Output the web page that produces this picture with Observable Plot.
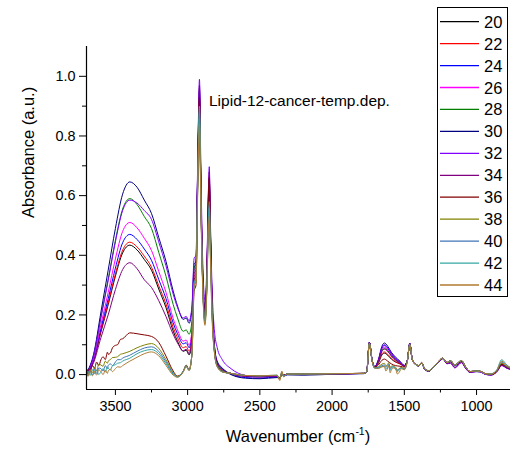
<!DOCTYPE html>
<html>
<head>
<meta charset="utf-8">
<script src="https://cdn.jsdelivr.net/npm/d3@7"></script>
<script src="https://cdn.jsdelivr.net/npm/@observablehq/plot@0.6"></script>
<style>
  html, body { margin: 0; padding: 0; background: #fff; }
  #chart { position: relative; width: 510px; height: 450px; }
</style>
</head>
<body>
<div id="chart"></div>
<script>
// ---------- data ----------
const temps = [20, 22, 24, 26, 28, 30, 32, 34, 36, 38, 40, 42, 44];
const colors = ["#000000", "#ff0000", "#0000ff", "#ff00ff", "#008000", "#000080", "#8000ff",
                "#800080", "#800000", "#808000", "#3f74b8", "#33a7a2", "#b07a32"];

const wavenumbers = [
  3700, 3650, 3600, 3550, 3500, 3450, 3400,
  3350, 3300, 3250, 3200, 3150, 3100, 3070, 3030, 3010, 2990,
  2970, 2955, 2942, 2930, 2918, 2908, 2895, 2880, 2866, 2856, 2850, 2843, 2830, 2815, 2795, 2760,
  2700, 2600, 2500, 2380, 2362, 2348, 2335, 2310, 2200, 2000, 1780,
  1760, 1742, 1722, 1705, 1680, 1655, 1638, 1615, 1590, 1560, 1530, 1500, 1480, 1462, 1445, 1425,
  1400, 1380, 1360, 1330, 1300, 1270, 1235, 1205, 1180, 1150, 1105, 1075, 1045, 1000, 975, 940,
  900, 860, 826, 790, 765
];

const abs20 = [
  0.004, 0.048, 0.143, 0.234, 0.330, 0.408, 0.434,
  0.418, 0.386, 0.350, 0.287, 0.225, 0.146, 0.112, 0.078, 0.082, 0.066,
  0.11, 0.32, 0.33, 0.66, 0.91, 0.58, 0.30, 0.18, 0.32, 0.55, 0.62, 0.47, 0.21, 0.085, 0.03, 0.01,
  0.004, -0.004, -0.005, -0.004, -0.01, 0.003, -0.002, 0.002, 0.002, 0.003, 0.004,
  0.01, 0.106, 0.044, 0.024, 0.038, 0.066, 0.072, 0.065, 0.052, 0.042, 0.036, 0.028, 0.045, 0.102, 0.05, 0.035,
  0.03, 0.04, 0.02, 0.013, 0.025, 0.04, 0.055, 0.04, 0.047, 0.033, 0.047, 0.025, 0.01, 0.012, 0.011, 0.003,
  0.0, 0.012, 0.035, 0.025, 0.02
];
const abs22 = [
  0.0, 0.049, 0.147, 0.240, 0.337, 0.417, 0.444,
  0.428, 0.397, 0.360, 0.298, 0.237, 0.158, 0.124, 0.090, 0.094, 0.078,
  0.12, 0.33, 0.34, 0.67, 0.92, 0.59, 0.30, 0.19, 0.33, 0.57, 0.64, 0.48, 0.22, 0.088, 0.032, 0.012,
  0.004, -0.005, -0.006, -0.004, -0.011, 0.003, -0.002, 0.002, 0.002, 0.003, 0.004,
  0.01, 0.107, 0.045, 0.025, 0.04, 0.07, 0.076, 0.068, 0.055, 0.043, 0.036, 0.029, 0.045, 0.103, 0.05, 0.036,
  0.03, 0.041, 0.02, 0.013, 0.025, 0.04, 0.055, 0.041, 0.046, 0.032, 0.047, 0.024, 0.01, 0.012, 0.011, 0.003,
  0.001, 0.012, 0.034, 0.024, 0.02
];
const abs24 = [
  0.002, 0.052, 0.155, 0.254, 0.357, 0.442, 0.470,
  0.453, 0.421, 0.383, 0.319, 0.255, 0.173, 0.137, 0.103, 0.107, 0.090,
  0.14, 0.36, 0.37, 0.69, 0.95, 0.61, 0.32, 0.21, 0.35, 0.58, 0.65, 0.49, 0.23, 0.095, 0.04, 0.02,
  0.002, -0.01, -0.012, -0.008, -0.012, 0.002, -0.003, 0.001, 0.0, 0.002, 0.004,
  0.011, 0.108, 0.046, 0.026, 0.047, 0.088, 0.098, 0.088, 0.07, 0.052, 0.041, 0.03, 0.046, 0.104, 0.05, 0.035,
  0.029, 0.04, 0.019, 0.012, 0.024, 0.039, 0.054, 0.04, 0.044, 0.03, 0.046, 0.023, 0.009, 0.011, 0.01, 0.002,
  0.0, 0.011, 0.033, 0.023, 0.019
];
const abs26 = [
  0.003, 0.056, 0.168, 0.275, 0.388, 0.480, 0.510,
  0.492, 0.457, 0.416, 0.346, 0.276, 0.188, 0.150, 0.112, 0.116, 0.098,
  0.15, 0.35, 0.36, 0.68, 0.94, 0.60, 0.31, 0.20, 0.34, 0.57, 0.64, 0.48, 0.22, 0.09, 0.035, 0.015,
  0.004, -0.006, -0.007, -0.005, -0.011, 0.003, -0.002, 0.002, 0.001, 0.003, 0.004,
  0.01, 0.107, 0.045, 0.025, 0.045, 0.083, 0.092, 0.083, 0.066, 0.05, 0.04, 0.03, 0.045, 0.103, 0.05, 0.035,
  0.03, 0.04, 0.02, 0.013, 0.025, 0.04, 0.055, 0.04, 0.045, 0.031, 0.046, 0.024, 0.01, 0.012, 0.011, 0.003,
  0.0, 0.012, 0.034, 0.024, 0.02
];
const abs28 = [
  0.003, 0.065, 0.195, 0.320, 0.450, 0.555, 0.590,
  0.570, 0.530, 0.490, 0.410, 0.330, 0.235, 0.190, 0.145, 0.150, 0.135,
  0.18, 0.36, 0.37, 0.68, 0.93, 0.60, 0.31, 0.20, 0.34, 0.56, 0.63, 0.48, 0.22, 0.09, 0.035, 0.015,
  0.004, -0.005, -0.006, -0.004, -0.01, 0.003, -0.002, 0.002, 0.002, 0.003, 0.004,
  0.01, 0.106, 0.045, 0.025, 0.044, 0.08, 0.088, 0.08, 0.064, 0.049, 0.039, 0.03, 0.045, 0.103, 0.05, 0.035,
  0.03, 0.04, 0.02, 0.013, 0.025, 0.04, 0.055, 0.04, 0.046, 0.032, 0.047, 0.025, 0.01, 0.012, 0.011, 0.003,
  0.0, 0.012, 0.035, 0.025, 0.02
];
const abs30 = [
  0.005, 0.070, 0.210, 0.350, 0.490, 0.605, 0.646,
  0.628, 0.585, 0.540, 0.460, 0.380, 0.280, 0.230, 0.185, 0.190, 0.172,
  0.22, 0.37, 0.38, 0.70, 0.96, 0.62, 0.33, 0.22, 0.35, 0.59, 0.66, 0.50, 0.24, 0.10, 0.045, 0.022,
  0.0, -0.012, -0.014, -0.01, -0.013, 0.0, -0.005, -0.001, -0.002, 0.001, 0.003,
  0.011, 0.108, 0.047, 0.027, 0.05, 0.095, 0.106, 0.095, 0.075, 0.058, 0.045, 0.031, 0.046, 0.104, 0.05, 0.035,
  0.029, 0.039, 0.018, 0.011, 0.023, 0.038, 0.053, 0.039, 0.043, 0.029, 0.045, 0.022, 0.008, 0.01, 0.009, 0.001,
  -0.001, 0.01, 0.032, 0.022, 0.018
];
const abs32 = [
  0.0, 0.065, 0.190, 0.315, 0.445, 0.550, 0.585,
  0.575, 0.550, 0.520, 0.445, 0.365, 0.270, 0.225, 0.190, 0.195, 0.180,
  0.23, 0.39, 0.40, 0.72, 0.99, 0.68, 0.37, 0.25, 0.38, 0.62, 0.697, 0.53, 0.28, 0.15, 0.09, 0.05,
  0.02, -0.003, -0.008, -0.006, -0.012, 0.002, -0.003, 0.001, 0.0, 0.002, 0.004,
  0.011, 0.108, 0.046, 0.026, 0.048, 0.09, 0.1, 0.09, 0.072, 0.055, 0.043, 0.03, 0.046, 0.105, 0.05, 0.035,
  0.029, 0.04, 0.018, 0.011, 0.023, 0.038, 0.053, 0.036, 0.038, 0.022, 0.04, 0.02, 0.007, 0.01, 0.009, 0.001,
  -0.002, 0.009, 0.03, 0.021, 0.017
];
const abs34 = [
  0.0, 0.041, 0.124, 0.200, 0.285, 0.352, 0.375,
  0.355, 0.318, 0.292, 0.248, 0.195, 0.135, 0.106, 0.080, 0.085, 0.070,
  0.12, 0.34, 0.35, 0.70, 0.97, 0.64, 0.34, 0.21, 0.36, 0.61, 0.68, 0.51, 0.24, 0.10, 0.04, 0.018,
  0.003, -0.006, -0.008, -0.005, -0.012, 0.003, -0.003, 0.001, 0.001, 0.002, 0.004,
  0.01, 0.107, 0.046, 0.025, 0.045, 0.078, 0.085, 0.078, 0.062, 0.048, 0.038, 0.029, 0.045, 0.104, 0.05, 0.035,
  0.029, 0.04, 0.019, 0.012, 0.024, 0.039, 0.054, 0.037, 0.039, 0.024, 0.041, 0.021, 0.008, 0.011, 0.01, 0.002,
  -0.001, 0.01, 0.031, 0.022, 0.018
];
const abs36 = [
  0.005, 0.025, 0.050, 0.068, 0.098, 0.120, 0.140,
  0.137, 0.133, 0.128, 0.108, 0.062, 0.012, -0.005, 0.012, 0.032, 0.016,
  0.07, 0.28, 0.30, 0.66, 0.93, 0.62, 0.32, 0.19, 0.34, 0.60, 0.66, 0.49, 0.22, 0.085, 0.03, 0.01,
  0.004, -0.003, -0.004, -0.003, -0.012, 0.004, -0.003, 0.002, 0.002, 0.003, 0.004,
  0.01, 0.106, 0.044, 0.024, 0.032, 0.048, 0.052, 0.045, 0.036, 0.03, 0.028, 0.025, 0.044, 0.102, 0.05, 0.035,
  0.03, 0.04, 0.02, 0.013, 0.025, 0.04, 0.055, 0.04, 0.046, 0.032, 0.047, 0.025, 0.01, 0.012, 0.011, 0.003,
  0.0, 0.012, 0.035, 0.025, 0.02
];
const abs38 = [
  0.004, 0.018, 0.032, 0.045, 0.058, 0.070, 0.078,
  0.090, 0.099, 0.104, 0.088, 0.050, 0.008, -0.006, 0.011, 0.030, 0.015,
  0.07, 0.30, 0.31, 0.63, 0.86, 0.57, 0.29, 0.17, 0.31, 0.53, 0.58, 0.44, 0.20, 0.08, 0.028, 0.01,
  0.004, -0.003, -0.004, -0.003, -0.016, 0.008, -0.005, 0.002, 0.002, 0.003, 0.004,
  0.01, 0.105, 0.044, 0.022, 0.026, 0.035, 0.038, 0.034, 0.028, 0.024, 0.022, 0.02, 0.043, 0.101, 0.05, 0.035,
  0.03, 0.04, 0.02, 0.013, 0.025, 0.04, 0.055, 0.04, 0.046, 0.032, 0.047, 0.025, 0.01, 0.012, 0.011, 0.003,
  0.001, 0.013, 0.038, 0.026, 0.021
];
const abs40 = [
  0.006, 0.008, 0.020, 0.030, 0.042, 0.055, 0.065,
  0.078, 0.089, 0.093, 0.078, 0.043, 0.004, -0.007, 0.011, 0.029, 0.015,
  0.07, 0.31, 0.32, 0.64, 0.88, 0.58, 0.29, 0.18, 0.31, 0.52, 0.57, 0.43, 0.20, 0.08, 0.028, 0.01,
  0.004, -0.003, -0.004, -0.003, -0.014, 0.006, -0.004, 0.002, 0.002, 0.003, 0.004,
  0.01, 0.105, 0.044, 0.022, 0.024, 0.03, 0.032, 0.029, 0.024, 0.021, 0.02, 0.018, 0.043, 0.101, 0.05, 0.035,
  0.03, 0.04, 0.02, 0.013, 0.025, 0.04, 0.055, 0.04, 0.046, 0.032, 0.047, 0.025, 0.01, 0.012, 0.011, 0.003,
  0.002, 0.014, 0.042, 0.028, 0.022
];
const abs42 = [
  0.003, 0.012, 0.010, 0.022, 0.033, 0.045, 0.055,
  0.070, 0.080, 0.084, 0.070, 0.037, 0.001, -0.008, 0.010, 0.028, 0.014,
  0.07, 0.31, 0.32, 0.65, 0.90, 0.59, 0.29, 0.18, 0.31, 0.51, 0.56, 0.42, 0.19, 0.078, 0.027, 0.009,
  0.004, -0.003, -0.004, -0.002, -0.014, 0.007, -0.005, 0.002, 0.002, 0.003, 0.004,
  0.01, 0.105, 0.044, 0.022, 0.022, 0.027, 0.028, 0.025, 0.021, 0.019, 0.018, 0.017, 0.043, 0.101, 0.05, 0.035,
  0.03, 0.04, 0.02, 0.013, 0.025, 0.04, 0.055, 0.04, 0.046, 0.032, 0.047, 0.025, 0.01, 0.012, 0.011, 0.003,
  0.003, 0.016, 0.05, 0.032, 0.024
];
const abs44 = [
  0.008, 0.002, 0.010, 0.012, 0.020, 0.030, 0.045,
  0.058, 0.070, 0.076, 0.063, 0.031, -0.002, -0.009, 0.009, 0.027, 0.013,
  0.07, 0.30, 0.31, 0.62, 0.84, 0.55, 0.28, 0.165, 0.30, 0.49, 0.53, 0.40, 0.18, 0.075, 0.026, 0.009,
  0.004, -0.003, -0.004, -0.002, -0.02, 0.012, -0.008, 0.002, 0.002, 0.003, 0.004,
  0.01, 0.104, 0.044, 0.022, 0.02, 0.026, 0.027, 0.022, 0.015, 0.018, 0.012, 0.016, 0.043, 0.1, 0.05, 0.035,
  0.03, 0.04, 0.02, 0.013, 0.025, 0.04, 0.055, 0.04, 0.046, 0.032, 0.047, 0.025, 0.01, 0.012, 0.011, 0.003,
  0.002, 0.014, 0.045, 0.03, 0.023
];

// extra, noisier readings of the weak (36–44 °C) spectra near the left edge and in the amide band
const edgeWavenumbers = [3690, 3675, 3660, 3645, 3630, 3615, 3585, 3570, 3555, 3535, 3520, 3485, 3465];
const edge36 = [0.018, 0.008, 0.030, 0.020, 0.042, 0.030, 0.060, 0.050, 0.075, 0.072, 0.090, 0.100, 0.118];
const edge38 = [0.000, 0.015, 0.006, 0.025, 0.012, 0.035, 0.028, 0.045, 0.038, 0.050, 0.057, 0.060, 0.068];
const edge40 = [-0.004, 0.012, 0.000, 0.018, 0.004, 0.022, 0.012, 0.030, 0.020, 0.036, 0.030, 0.050, 0.050];
const edge42 = [0.012, -0.003, 0.016, 0.002, 0.015, 0.000, 0.020, 0.008, 0.026, 0.015, 0.030, 0.038, 0.040];
const edge44 = [-0.006, 0.014, -0.004, 0.012, -0.002, 0.016, 0.000, 0.015, 0.004, 0.018, 0.010, 0.026, 0.025];

const amideWavenumbers = [1628, 1608, 1598, 1575, 1548, 1520];
const amide38 = [0.030, 0.040, 0.024, 0.030, 0.016, 0.024];
const amide40 = [0.026, 0.034, 0.020, 0.027, 0.014, 0.022];
const amide42 = [0.020, 0.030, 0.014, 0.025, 0.010, 0.022];
const amide44 = [0.012, 0.030, 0.006, 0.022, 0.002, 0.020];

const xDomain = [3700, 765];
const yDomain = [-0.05, 1.1];
const xMajor = [3500, 3000, 2500, 2000, 1500, 1000];
const xMinor = [3250, 2750, 2250, 1750, 1250];
const yMajor = [0, 0.2, 0.4, 0.6, 0.8, 1.0];
const yMinor = [0.1, 0.3, 0.5, 0.7, 0.9];
const titleText = "Lipid-12-cancer-temp.dep.";
const yLabel = "Absorbance (a.u.)";

// ---------- build tidy table ----------
const seriesValues = [abs20, abs22, abs24, abs26, abs28, abs30, abs32, abs34, abs36, abs38, abs40, abs42, abs44];
const edgeExtras = {36: edge36, 38: edge38, 40: edge40, 42: edge42, 44: edge44};
const amideExtras = {38: amide38, 40: amide40, 42: amide42, 44: amide44};
const rows = [];
seriesValues.forEach((vals, i) => {
  const t = temps[i];
  if (vals.length !== wavenumbers.length) console.error("length mismatch", t, vals.length);
  const pts = vals.map((a, j) => ({wn: wavenumbers[j], a, t}));
  if (edgeExtras[t]) edgeExtras[t].forEach((a, j) => pts.push({wn: edgeWavenumbers[j], a, t}));
  if (amideExtras[t]) amideExtras[t].forEach((a, j) => pts.push({wn: amideWavenumbers[j], a, t}));
  pts.sort((p, q) => q.wn - p.wn);
  rows.push(...pts);
});

const font = "'Liberation Sans', Arial, sans-serif";

const plot = Plot.plot({
  width: 510,
  height: 450,
  marginLeft: 86,
  marginRight: 0,
  marginTop: 46,
  marginBottom: 61,
  style: {fontFamily: font, fontSize: "14.4px", background: "#fff", color: "#000", overflow: "visible"},
  x: {domain: xDomain, label: null},
  y: {domain: yDomain, label: null},
  color: {type: "ordinal", domain: temps, range: colors},
  marks: [
    Plot.line(rows, {x: "wn", y: "a", z: "t", stroke: "t", strokeWidth: 1, curve: "monotone-x", clip: true}),
    Plot.axisX({ticks: xMajor, tickSize: 6, tickPadding: 5, tickFormat: d => String(d), label: null}),
    Plot.axisX({ticks: xMinor, tickSize: 3.5, tickFormat: () => "", label: null}),
    Plot.axisY({ticks: yMajor, tickSize: 7, tickPadding: 4, tickFormat: d3.format(".1f"), label: null}),
    Plot.axisY({ticks: yMinor, tickSize: 4, tickFormat: () => "", label: null}),
    Plot.ruleX([xDomain[0]], {strokeWidth: 1.2}),
    Plot.ruleY([yDomain[0]], {strokeWidth: 1.2}),
    Plot.text([yLabel], {frameAnchor: "left", dx: -58, rotate: -90, fontSize: 16.5, fill: "#000"})
  ]
});

document.getElementById("chart").appendChild(plot);

// ---------- annotations: title, x label, legend ----------
const svg = d3.select(plot);
svg.append("text")
  .attr("x", 209).attr("y", 106)
  .attr("text-anchor", "start")
  .attr("font-family", font).attr("font-size", 15.5).attr("fill", "#000")
  .text(titleText);

const xl = svg.append("text")
  .attr("x", 298).attr("y", 442)
  .attr("text-anchor", "middle")
  .attr("font-family", font).attr("font-size", 16.5).attr("fill", "#000");
xl.append("tspan").text("Wavenumber (cm");
xl.append("tspan").attr("font-size", 10.5).attr("dy", -7).text("-1");
xl.append("tspan").attr("dy", 7).text(")");

const lg = svg.append("g").attr("text-anchor", "start");
lg.append("rect")
  .attr("x", 437.5).attr("y", 7.5).attr("width", 70).attr("height", 289)
  .attr("fill", "#fff").attr("stroke", "#000").attr("stroke-width", 1);
temps.forEach((t, i) => {
  const y = 21.7 + i * 21.94;
  lg.append("line").attr("x1", 440).attr("x2", 479).attr("y1", y).attr("y2", y)
    .attr("stroke", colors[i]).attr("stroke-width", 1.3);
  lg.append("text").attr("x", 484).attr("y", y + 6)
    .attr("text-anchor", "start")
    .attr("font-family", font).attr("font-size", 16.5).attr("fill", "#000")
    .text(String(t));
});
</script>
</body>
</html>
